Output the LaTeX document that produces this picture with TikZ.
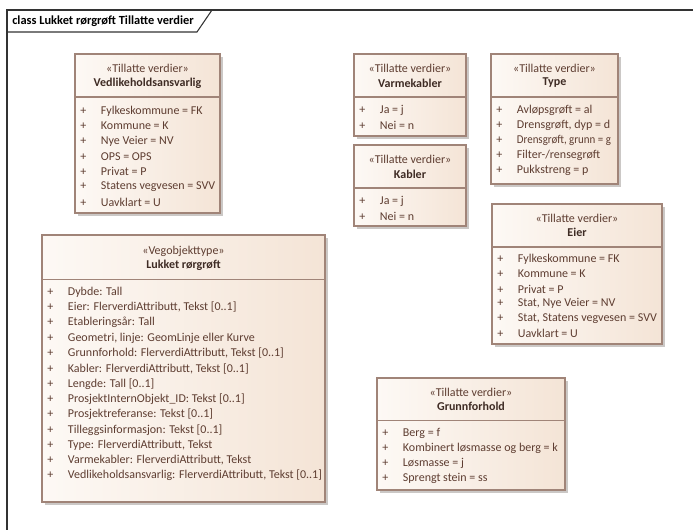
\documentclass[tikz,border=0pt]{standalone}
\usepackage{fontspec}
\setmainfont{Carlito}

\definecolor{boxline}{HTML}{A08478}
\definecolor{boxleft}{HTML}{FDF9F5}
\definecolor{boxright}{HTML}{F4E4D6}
\definecolor{shadowgrey}{HTML}{CBC8C6}
\definecolor{txtbrown}{HTML}{5E3D31}
\definecolor{txtname}{HTML}{3E2B24}

\tikzset{
  frameline/.style={draw=black!80,line width=0.8pt},
  classbg/.style={left color=boxleft,right color=boxright},
  classline/.style={draw=boxline,line width=0.8pt},
  stereo/.style={inner sep=0,text=txtbrown,font=\fontsize{9}{11}\selectfont},
  cname/.style={inner sep=0,text=txtname,font=\fontsize{9}{11}\selectfont\bfseries},
  item/.style={anchor=west,inner sep=0,text=txtbrown,font=\fontsize{9}{11}\selectfont,
    execute at begin node={\makebox[15.5pt][l]{+}}}
}

\begin{document}
\begin{tikzpicture}[x=0.75pt,y=-0.75pt]
\useasboundingbox (0,0) rectangle (693,530);

% frame
\draw[frameline] (7,530) -- (7,10) -- (693,10);
\draw[frameline] (212,10) -- (197,32) -- (7,32);
\node[anchor=west,inner sep=0,font=\fontsize{9.3}{11}\selectfont\bfseries] (title) at (12,21) {class Lukket rørgrøft Tillatte verdier};

% Vedlikeholdsansvarlig
\fill[shadowgrey] (78,57) rectangle (223,216);
\shade[classbg] (75,54) rectangle (220,213);
\draw[classline] (75,54) rectangle (220,213);
\draw[classline] (75,97) -- (220,97);
\node[stereo] (vedls) at (147.5,68) {«Tillatte verdier»};
\node[cname] (vedln) at (147.5,83) {Vedlikeholdsansvarlig};
\node[item] (vedl1) at (80,111) {Fylkeskommune = FK};
\node[item] (vedl2) at (80,126.2) {Kommune = K};
\node[item] (vedl3) at (80,141.4) {Nye Veier = NV};
\node[item] (vedl4) at (80,156.6) {OPS = OPS};
\node[item] (vedl5) at (80,171.8) {Privat = P};
\node[item] (vedl6) at (80,187) {Statens vegvesen = SVV};
\node[item] (vedl7) at (80,202.2) {Uavklart = U};

% Varmekabler
\fill[shadowgrey] (357,57) rectangle (469,139);
\shade[classbg] (354,54) rectangle (466,136);
\draw[classline] (354,54) rectangle (466,136);
\draw[classline] (354,97) -- (466,97);
\node[stereo] (varms) at (410,68) {«Tillatte verdier»};
\node[cname] (varmn) at (410,83) {Varmekabler};
\node[item] (varm1) at (359,110) {Ja = j};
\node[item] (varm2) at (359,125) {Nei = n};

% Kabler
\fill[shadowgrey] (357,148) rectangle (469,229);
\shade[classbg] (354,145) rectangle (466,226);
\draw[classline] (354,145) rectangle (466,226);
\draw[classline] (354,188) -- (466,188);
\node[stereo] (kabs) at (410,159) {«Tillatte verdier»};
\node[cname] (kabn) at (410,174) {Kabler};
\node[item] (kab1) at (359,201) {Ja = j};
\node[item] (kab2) at (359,216) {Nei = n};

% Type
\fill[shadowgrey] (494,57) rectangle (621,187);
\shade[classbg] (491,54) rectangle (618,184);
\draw[classline] (491,54) rectangle (618,184);
\draw[classline] (491,97) -- (618,97);
\node[stereo] (types) at (554.5,68) {«Tillatte verdier»};
\node[cname] (typen) at (554.5,83) {Type};
\node[item] (type1) at (496,110) {Avløpsgrøft = al};
\node[item] (type2) at (496,125) {Drensgrøft, dyp = d};
\node[item] (type3) at (496,140) {\scalebox{0.91}[1]{Drensgrøft, grunn = g}};
\node[item] (type4) at (496,155) {Filter-/rensegrøft};
\node[item] (type5) at (496,170) {Pukkstreng = p};

% Eier
\fill[shadowgrey] (495,207) rectangle (665,347);
\shade[classbg] (492,204) rectangle (662,344);
\draw[classline] (492,204) rectangle (662,344);
\draw[classline] (492,247) -- (662,247);
\node[stereo] (eiers) at (577,218) {«Tillatte verdier»};
\node[cname] (eiern) at (577,232) {Eier};
\node[item] (eier1) at (497,259) {Fylkeskommune = FK};
\node[item] (eier2) at (497,274) {Kommune = K};
\node[item] (eier3) at (497,289) {Privat = P};
\node[item] (eier4) at (497,303.5) {Stat, Nye Veier = NV};
\node[item] (eier5) at (497,318.5) {Stat, Statens vegvesen = SVV};
\node[item] (eier6) at (497,333) {Uavklart = U};

% Lukket rørgrøft
\fill[shadowgrey] (45,238) rectangle (328,505);
\shade[classbg] (42,235) rectangle (325,502);
\draw[classline] (42,235) rectangle (325,502);
\draw[classline] (42,279.5) -- (325,279.5);
\node[stereo] (lukks) at (183.5,251.5) {«Vegobjekttype»};
\node[cname] (lukkn) at (183.5,265.5) {Lukket rørgrøft};
\node[item] (lukk1) at (47,292) {Dybde: Tall};
\node[item] (lukk2) at (47,307.3) {Eier: FlerverdiAttributt, Tekst [0..1]};
\node[item] (lukk3) at (47,322.6) {Etableringsår: Tall};
\node[item] (lukk4) at (47,337.9) {Geometri, linje: GeomLinje eller Kurve};
\node[item] (lukk5) at (47,353.2) {Grunnforhold: FlerverdiAttributt, Tekst [0..1]};
\node[item] (lukk6) at (47,368.5) {Kabler: FlerverdiAttributt, Tekst [0..1]};
\node[item] (lukk7) at (47,383.8) {Lengde: Tall [0..1]};
\node[item] (lukk8) at (47,399.1) {ProsjektInternObjekt\_ID: Tekst [0..1]};
\node[item] (lukk9) at (47,414.4) {Prosjektreferanse: Tekst [0..1]};
\node[item] (lukk10) at (47,429.7) {Tilleggsinformasjon: Tekst [0..1]};
\node[item] (lukk11) at (47,445) {Type: FlerverdiAttributt, Tekst};
\node[item] (lukk12) at (47,460.3) {Varmekabler: FlerverdiAttributt, Tekst};
\node[item] (lukk13) at (47,475.6) {Vedlikeholdsansvarlig: FlerverdiAttributt, Tekst [0..1]};

% Grunnforhold
\fill[shadowgrey] (380,381) rectangle (568,493);
\shade[classbg] (377,378) rectangle (565,490);
\draw[classline] (377,378) rectangle (565,490);
\draw[classline] (377,420.5) -- (565,420.5);
\node[stereo] (grunns) at (471,392.5) {«Tillatte verdier»};
\node[cname] (grunnn) at (471,406.5) {Grunnforhold};
\node[item] (grunn1) at (382,433) {Berg = f};
\node[item] (grunn2) at (382,448) {Kombinert løsmasse og berg = k};
\node[item] (grunn3) at (382,463) {Løsmasse = j};
\node[item] (grunn4) at (382,478) {Sprengt stein = ss};
\end{tikzpicture}
\end{document}
